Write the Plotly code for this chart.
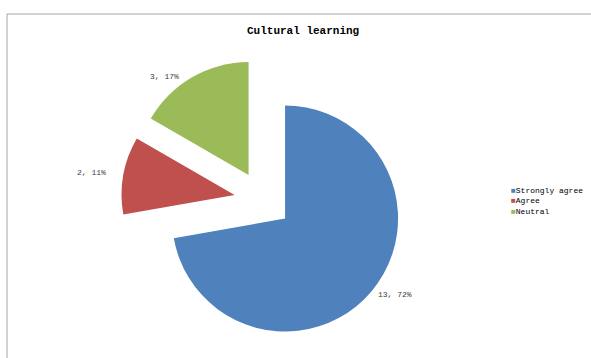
import plotly.graph_objects as go

# Survey responses for "Cultural learning"
labels = ["Strongly agree", "Agree", "Neutral"]
counts = [13, 2, 3]
colors = ["#4F81BD", "#C0504D", "#9BBB59"]
title_text = "Cultural learning"

W, H = 591, 358
FONT = "Liberation Mono"

# pie geometry (pixels): centre and radius, slices pulled out by a fraction of r
CX, CY, R, PULL = 263, 200, 113, 0.255
half = R * (1 + PULL)

fig = go.Figure()

fig.add_trace(go.Pie(
    labels=labels,
    values=counts,
    sort=False,
    direction="clockwise",
    rotation=0,
    pull=[PULL] * len(counts),
    marker=dict(colors=colors, line=dict(width=0)),
    textinfo="none",
    domain=dict(x=[(CX - half) / W, (CX + half) / W],
                y=[1 - (CY + half) / H, 1 - (CY - half) / H]),
    showlegend=False,
    automargin=False,
    hoverinfo="label+value+percent",
))

# data labels "count, percent" placed beside each slice
total = sum(counts)
label_anchor = [(395, 294), (91, 172), (164, 76)]
for n, (px, py) in zip(counts, label_anchor):
    fig.add_annotation(text=f"{n}, {round(100 * n / total)}%",
                       xref="paper", yref="paper", x=px / W, y=1 - py / H,
                       xanchor="center", yanchor="middle",
                       showarrow=False,
                       font=dict(family=FONT, size=8, color="#404040"))

# chart-area frame: top and left edges
frame_y = 1 - 14 / H
frame_x = 7 / W
fig.add_shape(type="line", xref="paper", yref="paper",
              x0=frame_x, x1=1, y0=frame_y, y1=frame_y,
              line=dict(color="#A6A6A6", width=1))
fig.add_shape(type="line", xref="paper", yref="paper",
              x0=frame_x, x1=frame_x, y0=0, y1=frame_y,
              line=dict(color="#A6A6A6", width=1))

# title
fig.add_annotation(text="<b>" + title_text + "</b>", xref="paper", yref="paper",
                   x=303 / W, y=1 - 31 / H, xanchor="center", yanchor="middle",
                   showarrow=False,
                   font=dict(family=FONT, size=11, color="#000000"))

# legend: colored squares with category names
legend_lines = [
    f"<span style='color:{c}'>■</span>{lab}" for lab, c in zip(labels, colors)
]
fig.add_annotation(text="<br>".join(legend_lines), xref="paper", yref="paper",
                   x=509 / W, y=1 - 201 / H, xanchor="left", yanchor="middle",
                   align="left", showarrow=False,
                   font=dict(family=FONT, size=8, color="#000000"))

fig.update_layout(
    width=W, height=H, autosize=False,
    margin=dict(l=0, r=0, t=0, b=0, pad=0, autoexpand=False),
    showlegend=False,
    paper_bgcolor="white",
    plot_bgcolor="white",
)

fig.write_html("out.html")
